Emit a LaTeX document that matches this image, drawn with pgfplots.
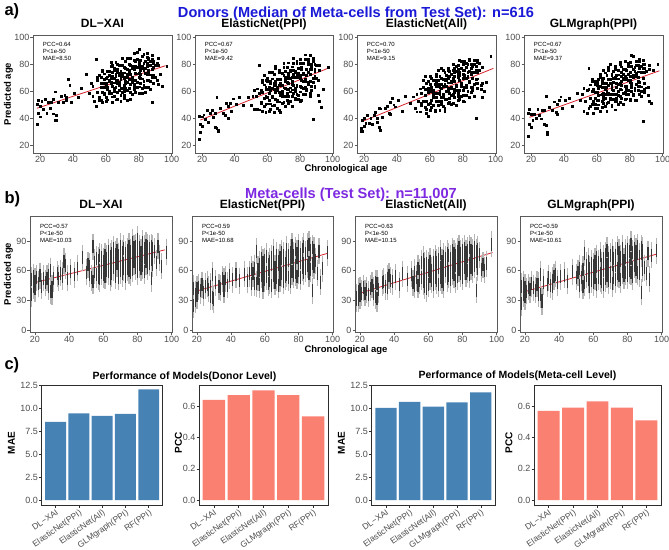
\documentclass[border=0pt]{standalone}
\usepackage{fontspec}
\setmainfont{Liberation Sans}
\usepackage{pgfplots}
\usepackage{pgfplotstable}
\pgfplotsset{compat=1.18}

\definecolor{framegray}{RGB}{90,90,90}
\definecolor{framedark}{RGB}{45,45,45}
\definecolor{ticktxt}{RGB}{77,77,77}
\definecolor{fitred}{RGB}{215,35,45}
\definecolor{titleblue}{RGB}{25,25,215}
\definecolor{titlepurple}{RGB}{125,40,225}
\definecolor{maeblue}{RGB}{70,130,180}
\definecolor{pccsalmon}{RGB}{250,128,114}
\definecolor{cloudlight}{RGB}{180,180,180}
\definecolor{clouddark}{RGB}{55,55,55}

% donor medians: chronological age, predicted age for the four models
\pgfplotstableread{
x a1 a2 a3 a4
18 36 25 31 27
18 51 42 33 44
19 44 30 39 36
19 54 36 31 47
20 41.5 41.5 40.5 33.5
20 49.5 34.5 34.5 43.4
21 53 43 37 39
22 47 39.5 42.5 43.3
23 54.7 46 37 40.7
24 44 37.5 40.5 47
25 52.5 44 36 42.6
26 48 46.4 42.4 40
27 52.3 41 45 46.5
28 43.7 33.4 37.4 36
28 54.7 44.4 40.4 46
29 39 32.9 33.9 35.4
29 60 56 48 56.4
30 42.6 31.4 31.4 29.8
30 38.6 30.4 47.4 28.8
31 52 47.9 40.9 48.2
33 56.8 43.9 47.9 46.1
34 52.2 42.4 49.4 52.6
35 57.6 51.8 43.9 45
36 54 49.3 52.4 50.5
36 56 40.3 43.4 43.5
37 69.4 51.8 54.9 53.9
38 64.8 45.3 50.4 56.3
39 52.2 54.8 48.9 47.8
41 59 50.8 53.8 53.6
43 55.8 55.8 45.8 55.5
45 62.6 49.8 56.8 49.4
48 72.8 56.2 51.3 58.7
50 58.6 50.2 56.3 53.5
51 66 56.7 47.7 58
52 56.4 47.2 45.2 45.4
52 64.4 61.2 58.2 62.4
53 52.8 56.7 52.7 52.9
54 49.2 47.2 45.2 44.3
54 84.2 62.2 62.2 61.3
55 59.6 79.7 49.7 77.7
55 68.6 46.7 58.7 47.7
56 56 52.2 68.2 55.2
56 72 61.2 53.2 65.2
57 63.5 66.7 48.7 60.6
57 53.5 45.7 61.7 50.6
57 70.5 59.7 71.7 69.6
58 59.9 55.2 53.2 53.1
58 74.9 65.2 66.2 62.1
58 51.9 72.2 44.2 44.1
59 66.3 50.6 59.6 65.5
59 58.3 61.6 50.6 55.5
59 69.3 44.6 67.6 67.5
59 63.3 68.6 41.6 50.5
59 73.3 56.6 62.6 59.5
60 69.7 51.1 60.3 47.9
60 55.7 70.1 46.3 64.9
60 65.7 62.1 65.3 59.9
61 62.1 53.6 53.7 69.4
61 75.1 74.6 61.7 53.4
61 54.1 58.6 69.7 57.4
62 72.5 47.1 50.2 63.8
62 60.5 66.1 60.2 45.8
62 67.5 61.1 56.2 72.8
63 78.9 56.6 65.7 53.2
63 58.9 69.6 45.7 63.2
63 65.9 49.6 68.7 58.2
63 69.9 62.6 58.7 68.2
64 52.3 66.1 64.2 51.7
64 74.3 45.1 53.2 75.7
64 64.3 73.1 73.2 56.7
65 77.7 54.6 58.7 66.1
65 60.7 65.6 68.7 49.1
65 69.7 59.6 49.7 63.1
65 56.7 78.6 65.7 55.1
66 73.1 53.1 46.2 72.5
66 82.1 63.1 63.2 60.5
66 63.1 48.1 71.2 45.5
67 68.5 69.6 55.7 69.0
67 59.5 59.6 77.7 59.0
67 76.5 75.6 52.7 76.0
67 54.5 52.6 62.7 52.0
68 71.9 69.1 49.2 66.4
68 66.9 45.1 69.2 55.4
68 79.9 66.1 58.2 80.4
69 62.3 73.5 74.7 61.9
69 75.3 58.5 54.7 71.9
69 53.3 64.5 65.7 49.9
69 70.3 51.5 45.7 64.9
70 84.7 72.0 72.2 58.3
70 59.7 57.0 60.2 75.3
70 71.7 78.0 68.2 54.3
71 65.1 62.5 51.7 69.7
71 78.1 49.5 77.7 46.7
71 57.1 69.5 62.7 66.7
71 74.1 75.5 69.7 78.7
72 67.5 59.0 55.2 58.2
72 82.5 67.0 75.2 72.2
72 62.5 54.0 59.2 53.2
73 70.9 81.5 66.7 65.6
73 53.9 61.5 50.7 75.6
73 76.9 72.5 72.7 50.6
73 66.9 56.5 62.7 69.6
74 80.3 70.0 80.2 62.0
74 62.3 53.0 58.2 82.0
74 74.3 75.0 69.2 57.0
75 59.7 65.5 55.7 74.5
75 84.7 49.5 77.7 61.5
75 72.7 78.5 61.7 78.5
75 65.7 61.5 71.7 55.5
76 79.1 73.0 50.2 69.9
76 58.1 59.0 75.2 50.9
76 71.1 85.0 65.2 72.9
77 88.5 55.5 79.7 64.4
77 65.5 70.5 58.7 76.4
77 76.5 60.5 70.7 59.4
77 61.5 75.5 53.7 82.4
78 82.9 65.0 74.2 54.8
78 68.9 81.0 61.2 69.8
78 77.9 58.0 83.2 61.8
79 63.3 73.5 64.7 79.2
79 84.3 54.5 77.7 58.2
79 73.3 77.5 56.7 73.2
80 58.7 64.0 73.1 66.7
80 79.7 84.0 61.1 81.7
80 70.7 60.0 80.1 54.7
80 91.7 72.0 53.1 74.7
81 76.1 53.4 71.6 60.1
81 66.1 76.4 82.6 79.1
81 83.1 68.4 63.6 65.1
82 62.6 80.9 78.1 86.5
82 78.6 62.9 57.1 58.5
82 69.6 73.9 70.1 72.5
83 88.0 58.4 80.6 63.0
83 65.0 84.4 60.6 78.0
83 76.0 67.4 74.6 54.0
84 59.4 76.9 67.1 82.4
84 82.4 61.9 83.1 65.4
84 73.4 71.9 56.1 71.4
85 85.8 84.4 74.6 60.8
85 68.8 65.4 63.6 79.8
85 78.8 80.4 80.6 67.8
86 63.2 56.9 61.1 77.3
86 84.2 86.9 79.1 58.3
86 76.2 67.9 70.1 84.3
87 67.6 80.4 83.6 63.7
87 82.6 61.4 65.6 74.7
87 72.6 76.4 74.6 56.7
88 52.0 39.9 40.1 38.2
88 84.0 82.9 79.1 83.2
88 71.0 66.9 69.1 77.2
89 82.4 76.4 81.6 66.6
89 66.4 64.4 62.6 80.6
89 78.4 80.4 74.6 61.6
89 70.4 71.4 66.6 74.6
90 79.8 69.9 76.1 63.0
91 68.2 57.4 61.6 57.5
92 84.6 79.8 66.1 76.9
93 73.0 48.3 60.6 51.4
94 64.4 61.8 67.1 75.8
97 78.6 78.3 86.5 80.1
}\donors

% further donors (row a only)
\pgfplotstableread{
x a1 a2 a3 a4
55 70.6 58.7 51.7 61.7
56 54.0 51.2 63.2 49.2
57 66.5 68.7 57.7 67.6
58 75.9 49.2 47.2 60.1
59 59.3 63.6 61.6 47.5
60 66.7 56.1 71.3 66.9
60 52.7 68.1 51.3 53.9
61 71.1 45.6 63.7 62.4
61 63.1 63.6 48.7 50.4
62 75.5 68.1 61.2 70.8
62 58.5 51.1 68.2 57.8
63 66.9 74.6 46.7 66.2
63 81.9 55.6 65.7 48.2
64 56.3 62.1 56.2 69.7
64 71.3 50.1 71.2 54.7
65 62.7 77.6 52.7 62.1
65 75.7 59.6 75.7 74.1
66 54.1 69.1 60.2 51.5
66 71.1 54.1 65.2 66.5
67 66.5 74.6 50.7 58.0
67 80.5 46.6 69.7 78.0
68 60.9 66.1 76.2 54.4
68 73.9 57.1 56.2 69.4
69 57.3 73.5 63.7 48.9
69 71.3 60.5 47.7 72.9
70 79.7 81.0 69.2 61.3
70 62.7 52.0 54.2 67.3
71 70.1 70.5 75.7 52.7
71 55.1 56.5 60.7 76.7
72 77.5 78.0 52.2 66.2
72 66.5 62.0 71.2 55.2
73 84.9 66.5 67.7 72.6
73 60.9 51.5 57.7 60.6
74 74.3 76.0 76.2 80.0
74 69.3 60.0 51.2 52.0
75 79.7 70.5 67.7 71.5
75 54.7 56.5 74.7 64.5
76 77.1 81.0 61.2 76.9
76 67.1 65.0 79.2 58.9
77 83.5 54.5 56.7 69.4
77 63.5 74.5 72.7 54.4
78 73.9 83.0 68.2 75.8
78 59.9 64.0 54.2 63.8
79 89.3 70.5 82.7 81.2
79 67.3 57.5 63.7 61.2
80 81.7 81.0 76.1 71.7
80 63.7 53.0 57.1 53.7
81 78.1 77.4 72.6 87.1
81 70.1 63.4 52.6 63.1
82 86.6 72.9 81.1 76.5
82 58.6 57.9 63.1 57.5
83 81.0 87.4 71.6 72.0
83 68.0 69.4 60.6 61.0
84 77.4 76.9 84.1 79.4
84 63.4 60.9 68.1 53.4
85 80.8 67.4 77.6 74.8
85 72.8 82.4 59.6 63.8
86 85.2 72.9 74.1 82.3
86 68.2 58.9 63.1 67.3
87 79.6 78.4 80.6 78.7
87 61.6 64.4 56.6 60.7
88 77.0 84.9 76.1 70.2
88 87.0 69.9 66.1 80.2
89 72.4 75.4 83.6 77.6
89 81.4 63.4 69.6 59.6
90 70.8 79.9 81.1 75.0
91 81.2 68.4 64.6 63.5
92 65.6 75.8 78.1 79.9
92 79.6 52.8 56.1 52.9
64 79.3 65.1 67.2 58.7
66 68.1 61.1 58.2 63.5
68 64.9 65.1 64.2 58.4
70 73.7 63.0 64.2 70.3
72 70.5 70.0 62.2 63.2
74 76.3 63.0 70.2 66.0
76 69.1 76.0 64.2 68.9
78 78.9 73.0 72.2 57.8
80 73.7 70.0 70.1 68.7
82 77.6 67.9 65.1 70.5
84 82.4 71.9 75.1 73.4
86 74.2 76.9 70.1 64.3
62 68.5 61.1 58.2 63.8
65 66.7 67.6 63.7 58.1
67 74.5 64.6 65.7 65.0
69 69.3 56.5 68.7 63.9
71 60.1 67.5 66.7 70.7
73 72.9 73.5 63.7 57.6
75 72.7 67.5 59.7 67.5
77 68.5 62.5 76.7 71.4
79 78.3 72.5 66.7 68.2
81 73.1 78.4 75.6 66.1
83 76.0 63.4 70.6 75.0
85 88.8 74.4 72.6 70.8
}\donorsextra

\newcommand{\ticksize}{\fontsize{9}{10}\selectfont}
\tikzset{
  stat/.style={anchor=north west, align=left, inner sep=0pt,
    font=\fontsize{6}{7.2}\selectfont},
  axlabel/.style={font=\bfseries\fontsize{9.5}{10}\selectfont},
}
\pgfplotsset{
  panel/.style={
    scale only axis,
    axis line style={framegray, line width=0.6pt},
    tick style={framegray, line width=0.5pt},
    tick align=outside, major tick length=2.5pt, tick pos=left,
    tick label style={font=\ticksize, text=ticktxt, inner sep=1pt},
    /pgf/number format/assume math mode=true,
    title style={at={(0.5,1)}, anchor=base, yshift=2pt,
      font=\bfseries\fontsize{12}{13}\selectfont},
  },
  scatA/.style={panel, height=118pt, xmin=15.7, xmax=100.2, ymin=14.6, ymax=102,
    xtick={20,40,...,100}, ytick={20,40,...,100}},
  scatB/.style={panel, height=116pt, xmin=17.1, xmax=100.2, ymin=-2.7, ymax=114.5,
    xtick={20,40,...,100}, ytick={0,30,60,90}},
  barC/.style={panel, height=120.7pt, xmin=0.4, xmax=5.6,
    axis line style={framedark, line width=0.6pt},
    tick style={framedark, line width=0.5pt},
    xtick={1,...,5},
    xticklabels={DL−XAI,ElasticNet(PPI),ElasticNet(All),GLMgraph(PPI),RF(PPI)},
    x tick label style={rotate=35, anchor=north east, inner sep=0.5pt,
      font=\fontsize{8.5}{9}\selectfont},
    yticklabel style={/pgf/number format/.cd, fixed, fixed zerofill, precision=1}},
  maeC/.style={barC, ymin=-0.6, ymax=12.5, ytick={0,2.5,...,12.5}},
  pccC/.style={barC, ymin=-0.035, ymax=0.735, ytick={0,0.2,0.4,0.6}},
  donordots/.style={only marks, mark=square*, mark size=0.95pt, black},
  fitline/.style={fitred, line width=0.8pt},
  streakwide/.style={only marks, mark=|, mark size=13pt,
    mark options={draw=cloudlight, line width=1.2pt}},
  streaknarrow/.style={only marks, mark=|, mark size=6.5pt,
    mark options={draw=clouddark, line width=1.2pt}},
}

\begin{document}
\begin{tikzpicture}[x=1pt, y=1pt]
\useasboundingbox (0,0) rectangle (669,-549);

% ---------- a) donors
\node[anchor=base west, font=\bfseries\fontsize{16.5}{17}\selectfont] at (1,-15) {a)};
\node[anchor=base, font=\bfseries\fontsize{14.6}{15}\selectfont, text=titleblue]
  at (356,-17) {Donors (Median of Meta-cells from Test Set): n=616};

\begin{axis}[scatA, at={(33pt,-35pt)}, anchor=north west, width=139pt,
  title={DL−XAI}]
  \addplot[donordots] table[x=x, y=a1] {\donors};
  \addplot[donordots] table[x=x, y=a1] {\donorsextra};
  \addplot[fitline] coordinates {(18,47.7) (96.3,79.3)};
  \node[stat] at (rel axis cs:0.07,0.94) {PCC=0.64\\P<1e-50\\MAE=8.50};
\end{axis}
\begin{axis}[scatA, at={(195pt,-35pt)}, anchor=north west, width=138pt,
  title={ElasticNet(PPI)}]
  \addplot[donordots] table[x=x, y=a2] {\donors};
  \addplot[donordots] table[x=x, y=a2] {\donorsextra};
  \addplot[fitline] coordinates {(19,39) (97,77.3)};
  \node[stat] at (rel axis cs:0.07,0.94) {PCC=0.67\\P<1e-50\\MAE=9.42};
\end{axis}
\begin{axis}[scatA, at={(357pt,-35pt)}, anchor=north west, width=139pt,
  title={ElasticNet(All)}]
  \addplot[donordots] table[x=x, y=a3] {\donors};
  \addplot[donordots] table[x=x, y=a3] {\donorsextra};
  \addplot[fitline] coordinates {(20,38.5) (98.6,77.3)};
  \node[stat] at (rel axis cs:0.07,0.94) {PCC=0.70\\P<1e-50\\MAE=9.15};
\end{axis}
\begin{axis}[scatA, at={(524pt,-35pt)}, anchor=north west, width=139pt,
  title={GLMgraph(PPI)}]
  \addplot[donordots] table[x=x, y=a4] {\donors};
  \addplot[donordots] table[x=x, y=a4] {\donorsextra};
  \addplot[fitline] coordinates {(19,41) (98,75.5)};
  \node[stat] at (rel axis cs:0.07,0.94) {PCC=0.67\\P<1e-50\\MAE=9.37};
\end{axis}
\node[axlabel, rotate=90] at (8.5,-94) {Predicted age};
\node[axlabel, anchor=base] at (346,-171.5) {Chronological age};

% ---------- b) meta-cells
\node[anchor=base west, font=\bfseries\fontsize{16.5}{17}\selectfont] at (1,-203) {b)};
\node[anchor=base, font=\bfseries\fontsize{14.6}{15}\selectfont, text=titlepurple]
  at (351,-198.3) {Meta-cells (Test Set): n=11,007};

\begin{axis}[scatB, at={(30pt,-216.7pt)}, anchor=north west, width=142pt,
  title={DL−XAI}]
  \addplot[streakwide] table[x=x, y=a1] {\donors};
  \addplot[streaknarrow] table[x=x, y=a1] {\donors};
  \addplot[fitline] coordinates {(19,47.5) (96,81)};
  \node[stat] at (rel axis cs:0.07,0.94) {PCC=0.57\\P<1e-50\\MAE=10.03};
\end{axis}
\begin{axis}[scatB, at={(192pt,-216.7pt)}, anchor=north west, width=141pt,
  title={ElasticNet(PPI)}]
  \addplot[streakwide] table[x=x, y=a2] {\donors};
  \addplot[streaknarrow] table[x=x, y=a2] {\donors};
  \addplot[fitline] coordinates {(19,39) (97,77.5)};
  \node[stat] at (rel axis cs:0.07,0.94) {PCC=0.59\\P<1e-50\\MAE=10.68};
\end{axis}
\begin{axis}[scatB, at={(355pt,-216.7pt)}, anchor=north west, width=142pt,
  title={ElasticNet(All)}]
  \addplot[streakwide] table[x=x, y=a3] {\donors};
  \addplot[streaknarrow] table[x=x, y=a3] {\donors};
  \addplot[fitline] coordinates {(19,36.7) (97.6,78.3)};
  \node[stat] at (rel axis cs:0.07,0.94) {PCC=0.63\\P<1e-50\\MAE=10.15};
\end{axis}
\begin{axis}[scatB, at={(520pt,-216.7pt)}, anchor=north west, width=142pt,
  title={GLMgraph(PPI)}]
  \addplot[streakwide] table[x=x, y=a4] {\donors};
  \addplot[streaknarrow] table[x=x, y=a4] {\donors};
  \addplot[fitline] coordinates {(19,38.3) (97,76.7)};
  \node[stat] at (rel axis cs:0.07,0.94) {PCC=0.59\\P<1e-50\\MAE=10.61};
\end{axis}
\node[axlabel, rotate=90] at (8.5,-274) {Predicted age};
\node[axlabel, anchor=base] at (346,-352.5) {Chronological age};

% ---------- c) performance
\node[anchor=base west, font=\bfseries\fontsize{16.5}{17}\selectfont] at (1,-369) {c)};
\node[anchor=base, font=\bfseries\fontsize{10.5}{11}\selectfont] at (184.5,-379.3)
  {Performance of Models(Donor Level)};
\node[anchor=base, font=\bfseries\fontsize{10.5}{11}\selectfont] at (517.5,-378.3)
  {Performance of Models(Meta-cell Level)};

\begin{axis}[maeC, at={(41.7pt,-385pt)}, anchor=north west, width=121pt]
  \addplot[ybar, bar width=0.9, fill=maeblue, draw=none] coordinates
    {(1,8.50) (2,9.42) (3,9.15) (4,9.37) (5,12.03)};
\end{axis}
\begin{axis}[pccC, at={(199pt,-385pt)}, anchor=north west, width=129pt]
  \addplot[ybar, bar width=0.9, fill=pccsalmon, draw=none] coordinates
    {(1,0.64) (2,0.67) (3,0.70) (4,0.67) (5,0.535)};
\end{axis}
\begin{axis}[maeC, at={(371.7pt,-385pt)}, anchor=north west, width=123.3pt]
  \addplot[ybar, bar width=0.9, fill=maeblue, draw=none] coordinates
    {(1,10.03) (2,10.68) (3,10.15) (4,10.61) (5,11.71)};
\end{axis}
\begin{axis}[pccC, at={(534pt,-385pt)}, anchor=north west, width=127pt]
  \addplot[ybar, bar width=0.9, fill=pccsalmon, draw=none] coordinates
    {(1,0.57) (2,0.59) (3,0.63) (4,0.59) (5,0.51)};
\end{axis}
\node[axlabel, rotate=90, font=\bfseries\fontsize{10}{11}\selectfont] at (11.5,-443) {MAE};
\node[axlabel, rotate=90, font=\bfseries\fontsize{10}{11}\selectfont] at (178.5,-443) {PCC};
\node[axlabel, rotate=90, font=\bfseries\fontsize{10}{11}\selectfont] at (341.5,-443) {MAE};
\node[axlabel, rotate=90, font=\bfseries\fontsize{10}{11}\selectfont] at (509,-443) {PCC};
\end{tikzpicture}
\end{document}
